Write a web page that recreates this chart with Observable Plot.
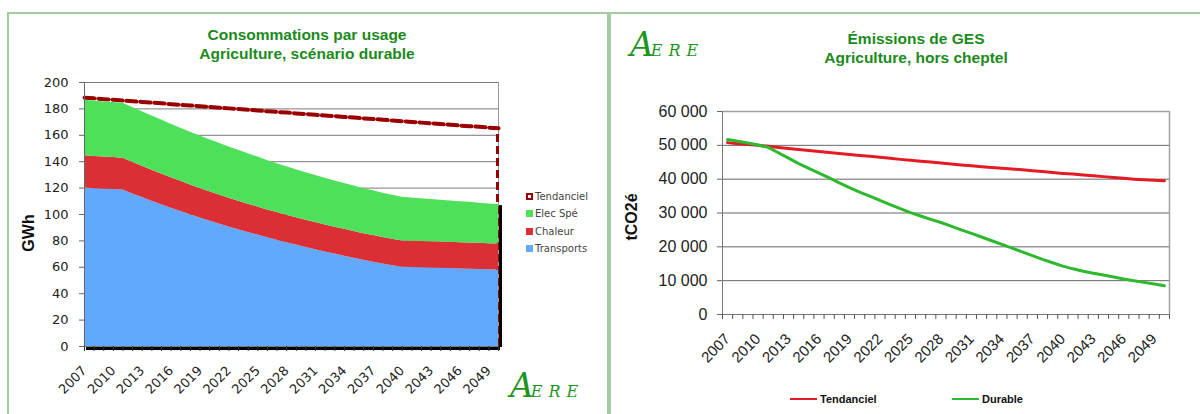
<!DOCTYPE html>
<html><head><meta charset="utf-8">
<script src="https://cdn.jsdelivr.net/npm/d3@7"></script>
<script src="https://cdn.jsdelivr.net/npm/@observablehq/plot@0.6"></script>
<style>
body{margin:0;background:#fff;}
#root{position:relative;width:1200px;height:414px;overflow:hidden;background:#fff;}
.panel{position:absolute;border:2px solid #a2cba0;box-sizing:border-box;}
.title{position:absolute;text-align:center;color:#1b8a1b;font-family:"Liberation Sans",Arial,sans-serif;font-weight:bold;font-size:15.5px;line-height:19px;white-space:nowrap;transform:translateX(-50%);}
.logo{position:absolute;color:#1d951d;font-family:"DejaVu Serif",serif;font-style:italic;white-space:nowrap;line-height:1;}
.logo .a{font-size:33px;}
.logo .ere{font-size:16px;letter-spacing:6px;margin-left:-3px;}
.leg{position:absolute;font-family:"DejaVu Sans",sans-serif;font-size:10px;color:#444;white-space:nowrap;line-height:12px;}
.sw{display:inline-block;width:7px;height:7px;margin-right:2px;vertical-align:-0px;box-sizing:border-box;}
.ylab{position:absolute;white-space:nowrap;transform:translate(-50%,-50%) rotate(-90deg);}
.plot{position:absolute;top:0;}
.leg2{position:absolute;font-family:"Liberation Sans",Arial,sans-serif;font-weight:bold;font-size:11px;color:#111;white-space:nowrap;line-height:12px;}
.ln{display:inline-block;width:27px;height:2px;vertical-align:3px;margin-right:3px;}
</style>
</head><body>
<div id="root">
  <div class="panel" style="left:7px;top:12px;width:602px;height:420px;"></div>
  <div class="panel" style="left:609px;top:12px;width:600px;height:420px;"></div>
  <div id="pl" class="plot" style="left:0;"></div>
  <div id="pr" class="plot" style="left:605px;"></div>
  <div class="title" style="left:307px;top:25px;">Consommations par usage<br>Agriculture, scénario durable</div>
  <div class="title" style="left:916px;top:29px;">Émissions de GES<br>Agriculture, hors cheptel</div>
  <div class="ylab" style="left:29px;top:233px;font-family:'Liberation Sans',Arial,sans-serif;font-weight:bold;font-size:16px;color:#111;">GWh</div>
  <div class="ylab" style="left:632px;top:217px;font-family:'Liberation Sans',Arial,sans-serif;font-weight:bold;font-size:16px;color:#111;">tCO2é</div>
  <div class="leg" style="left:526px;top:191px;"><span class="sw" style="border:2px solid #9a0000;background:#fff;"></span>Tendanciel</div>
  <div class="leg" style="left:526px;top:208px;"><span class="sw" style="background:#4fe05b;"></span>Elec Spé</div>
  <div class="leg" style="left:526px;top:226px;"><span class="sw" style="background:#dc2e35;"></span>Chaleur</div>
  <div class="leg" style="left:526px;top:243px;"><span class="sw" style="background:#62a8fd;"></span>Transports</div>
  <div class="leg2" style="left:790px;top:393px;"><span class="ln" style="background:#e31b23;"></span>Tendanciel</div>
  <div class="leg2" style="left:952px;top:393px;"><span class="ln" style="background:#2eb82e;"></span>Durable</div>
  <div class="logo" style="left:510px;top:369px;"><span class="a">A</span><span class="ere">ERE</span></div>
  <div class="logo" style="left:630px;top:28px;"><span class="a">A</span><span class="ere">ERE</span></div>
</div>
<script>
const years = [2007,2008,2009,2010,2011,2012,2013,2014,2015,2016,2017,2018,2019,2020,2021,2022,2023,2024,2025,2026,2027,2028,2029,2030,2031,2032,2033,2034,2035,2036,2037,2038,2039,2040,2041,2042,2043,2044,2045,2046,2047,2048,2049,2050];
const labelYears = [2007,2010,2013,2016,2019,2022,2025,2028,2031,2034,2037,2040,2043,2046,2049];

// Left chart: Consommations par usage (GWh)
const transports = [120.0,119.6,119.2,118.9,118.5,115.6,112.8,110.1,107.4,104.8,102.3,99.8,97.4,95.1,92.8,90.6,88.5,86.4,84.4,82.4,80.5,78.6,76.8,75.0,73.3,71.6,70.0,68.4,66.8,65.3,63.9,62.5,61.2,60.0,59.8,59.6,59.4,59.2,59.0,58.8,58.6,58.4,58.2,58.0];
const chaleur = [24.5,24.4,24.3,24.3,24.2,24.0,23.8,23.5,23.3,23.0,22.8,22.5,22.3,22.1,21.9,21.7,21.6,21.4,21.3,21.1,21.0,20.9,20.8,20.7,20.6,20.5,20.4,20.4,20.3,20.2,20.2,20.1,20.1,20.0,20.0,20.0,19.9,19.9,19.9,19.8,19.8,19.8,19.7,19.7];
const elecSpe = [42.0,41.9,41.8,41.7,41.6,41.4,41.2,41.0,40.8,40.6,40.3,40.1,39.8,39.5,39.2,38.9,38.6,38.2,37.8,37.4,37.0,36.6,36.3,36.0,35.6,35.3,35.0,34.7,34.4,34.1,33.8,33.5,33.3,33.0,32.7,32.4,32.0,31.7,31.4,31.1,30.8,30.4,30.1,29.8];
const tendancielGWh = [188.5,188.0,187.4,186.9,186.3,185.8,185.3,184.7,184.2,183.6,183.1,182.6,182.0,181.5,180.9,180.4,179.9,179.3,178.8,178.2,177.7,177.2,176.6,176.1,175.5,175.0,174.5,173.9,173.4,172.8,172.3,171.8,171.2,170.7,170.1,169.6,169.1,168.5,168.0,167.4,166.9,166.4,165.8,165.3];
const seriesNames = ["Transports","Chaleur","Elec Spé"];
const seriesColors = ["#62a8fd","#dc2e35","#4fe05b"];
const yTicksLeft = [0,20,40,60,80,100,120,140,160,180,200];

// Right chart: Émissions de GES (tCO2é)
const gesTendanciel = [50800,50500,50250,50000,49700,49350,49050,48750,48450,48150,47900,47600,47300,47000,46750,46450,46150,45850,45600,45300,45050,44750,44500,44200,43950,43700,43450,43250,43000,42750,42500,42250,41950,41700,41500,41250,41000,40750,40500,40250,40000,39800,39650,39500];
const gesDurable = [51700,51200,50700,50100,49400,47800,46200,44600,43200,41800,40400,38900,37500,36200,35000,33700,32500,31300,30100,29100,28100,27200,26100,25000,24000,22900,21800,20700,19600,18500,17400,16300,15300,14300,13500,12800,12200,11700,11100,10500,10000,9500,9000,8500];
const yTicksRight = [0,10000,20000,30000,40000,50000,60000];

// ---------- Left plot ----------
const stackRows = [];
[transports, chaleur, elecSpe].forEach((arr, k) => {
  years.forEach((yr, i) => stackRows.push({year: yr, series: seriesNames[k], value: arr[i]}));
});
const tendRows = years.map((yr, i) => ({year: yr, value: tendancielGWh[i]}));
const n = years.length - 1;
const lastYear = years[n];
const lastTotal = transports[n] + chaleur[n] + elecSpe[n];

const left = Plot.plot({
  width: 610, height: 414,
  marginLeft: 84, marginRight: 112, marginTop: 82, marginBottom: 68,
  x: {type: "linear", domain: [years[0], lastYear]},
  y: {domain: [0, 200]},
  color: {domain: seriesNames, range: seriesColors},
  style: {background: "transparent", fontFamily: "'DejaVu Sans', sans-serif", fontSize: "13px", color: "#222", overflow: "visible"},
  marks: [
    Plot.gridY(yTicksLeft, {stroke: "#7a7a7a", strokeOpacity: 1}),
    Plot.ruleX([lastYear], {stroke: "#999"}),
    Plot.lineY(tendRows, {x: "year", y: "value", stroke: "#9a0000", strokeWidth: 4, strokeDasharray: "10,4"}),
    Plot.ruleX([{year: lastYear, v: tendancielGWh[n]}], {x: "year", y1: 0, y2: "v", dx: -1, stroke: "#9a0000", strokeWidth: 3, strokeDasharray: "8,4"}),
    Plot.areaY(stackRows, {x: "year", y: "value", z: "series", fill: "series", order: seriesNames}),
    Plot.ruleX([{year: lastYear, v: lastTotal}], {x: "year", y1: 0, y2: "v", dx: 2, dy: 1, stroke: "#000", strokeWidth: 3}),
    Plot.ruleY([0], {x1: years[0], x2: lastYear, dx: 2, dy: 2, stroke: "#000", strokeWidth: 3}),
    Plot.ruleX([years[0]], {y1: 0, y2: 200, stroke: "#666"}),
    Plot.axisY(yTicksLeft, {tickSize: 5, tickPadding: 11, stroke: "#666", fill: "#222", fontSize: 13, label: null}),
    Plot.axisX(years, {tickSize: 5, tickFormat: () => "", stroke: "#333", label: null}),
    Plot.text(labelYears, {x: d => d, y: 0, text: d => String(d), rotate: -45, textAnchor: "end", lineAnchor: "middle", dy: 22, fontSize: 13, fill: "#222"})
  ]
});
document.getElementById("pl").appendChild(left);

// ---------- Right plot ----------
const fmt = d => d3.format(",")(d).replace(/,/g, " ");
const boundaries = years.map(y => y - 0.5).concat([lastYear + 0.5]);
const tRows = years.map((yr, i) => ({year: yr, value: gesTendanciel[i]}));
const dRows = years.map((yr, i) => ({year: yr, value: gesDurable[i]}));

const right = Plot.plot({
  width: 595, height: 414,
  marginLeft: 117, marginRight: 31, marginTop: 111, marginBottom: 100,
  x: {type: "linear", domain: [years[0] - 0.5, lastYear + 0.5]},
  y: {domain: [0, 60000]},
  style: {background: "transparent", fontFamily: "'Liberation Sans', Arial, sans-serif", fontSize: "15px", color: "#222", overflow: "visible"},
  marks: [
    Plot.gridY(yTicksRight, {stroke: "#666", strokeOpacity: 1}),
    Plot.ruleY([60000], {stroke: "#a0a0a0", strokeWidth: 1.5}),
    Plot.ruleX([lastYear + 0.5], {stroke: "#a0a0a0", strokeWidth: 1.5}),
    Plot.ruleX([years[0] - 0.5], {stroke: "#777"}),
    Plot.ruleY([0], {stroke: "#777"}),
    Plot.axisY(yTicksRight, {tickSize: 5, tickPadding: 10, tickFormat: fmt, stroke: "#666", fill: "#222", fontSize: 16, label: null}),
    Plot.axisX(boundaries, {tickSize: 5, tickFormat: () => "", stroke: "#555", label: null}),
    Plot.text(labelYears, {x: d => d, y: 0, text: d => String(d), rotate: -45, textAnchor: "end", lineAnchor: "middle", dy: 22, fontSize: 15, fill: "#222"}),
    Plot.lineY(tRows, {x: "year", y: "value", stroke: "#e31b23", strokeWidth: 3}),
    Plot.lineY(dRows, {x: "year", y: "value", stroke: "#2eb82e", strokeWidth: 3})
  ]
});
document.getElementById("pr").appendChild(right);
</script>
</body></html>
